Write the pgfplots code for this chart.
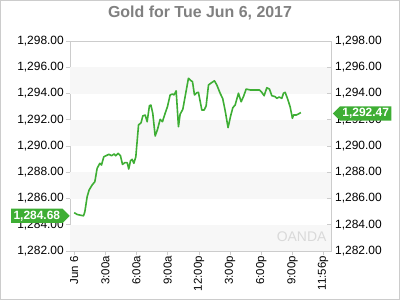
\documentclass[border=0pt]{standalone}
\usepackage{pgfplots}
\pgfplotsset{compat=1.18}
\usepackage{fontspec}
\setmainfont{Liberation Sans}
\usetikzlibrary{shapes.symbols}
\definecolor{gline}{RGB}{62,174,52}
\definecolor{axgray}{RGB}{204,204,204}
\definecolor{band}{RGB}{247,247,247}
\definecolor{titlegray}{RGB}{128,128,128}
\begin{document}
\begin{tikzpicture}
\draw[axgray, line width=1bp] (-69.5bp,-48.5bp) rectangle (329.5bp,250.5bp);
\node[font=\fontsize{16}{18}\selectfont\bfseries, text=titlegray] at (130bp,238bp) {Gold for Tue Jun 6, 2017};
\begin{axis}[
  at={(0,0)}, anchor=south west,
  scale only axis, width=261bp, height=210bp,
  clip mode=individual,
  xmin=-0.4, xmax=24.7, ymin=1282, ymax=1298,
  axis line style={draw=axgray},
  tick style={draw=axgray, line width=0.8bp},
  major tick length=4bp,
  tick align=outside,
  xtick pos=bottom, ytick pos=left,
  xtick={0,3,6,9,12,15,18,21,23.933},
  xticklabels={Jun 6,3:00a,6:00a,9:00a,12:00p,3:00p,6:00p,9:00p,11:56p},
  xticklabel style={rotate=90, anchor=east, font=\fontsize{11.5}{13}\selectfont, inner sep=1bp},
  ytick={1282,1284,...,1298},
  yticklabel style={font=\fontsize{12}{14}\selectfont, inner sep=1bp, xshift=-1bp},
  /pgf/number format/.cd, fixed, fixed zerofill, precision=2, 1000 sep={,}, assume math mode=true,
]
\fill[band] (axis cs:-0.4,1282) rectangle (axis cs:24.7,1284);
\fill[band] (axis cs:-0.4,1286) rectangle (axis cs:24.7,1288);
\fill[band] (axis cs:-0.4,1290) rectangle (axis cs:24.7,1292);
\fill[band] (axis cs:-0.4,1294) rectangle (axis cs:24.7,1296);
\node[font=\fontsize{14}{16}\selectfont, text=black!15, anchor=east] at (axis cs:24.6,1283.1) {OANDA};
\addplot[gline, line width=1.6bp, line join=round] coordinates {
(0.0,1284.92) (0.3,1284.78) (0.9,1284.68) (1.03,1285.0) (1.25,1286.14)
(1.44,1286.65) (1.73,1287.03) (1.99,1287.28) (2.21,1288.3) (2.47,1288.68)
(2.63,1288.55) (2.85,1289.18) (3.2,1289.31) (3.34,1289.37) (3.59,1289.26)
(3.85,1289.39) (4.0,1289.26) (4.23,1289.44) (4.45,1289.26) (4.65,1288.6)
(4.87,1288.73) (5.1,1288.73) (5.25,1288.25) (5.42,1288.88) (5.58,1288.98)
(5.74,1288.68) (5.93,1289.18) (6.19,1291.6) (6.44,1291.78) (6.6,1292.29)
(6.83,1292.36) (7.02,1291.85) (7.24,1293.07) (7.38,1293.12) (7.56,1292.49)
(7.79,1290.76) (8.0,1291.22) (8.27,1292.03) (8.49,1291.85) (8.75,1292.49)
(8.97,1292.99) (9.23,1293.89) (9.45,1293.96) (9.6,1293.89) (9.81,1294.2)
(10.03,1291.47) (10.19,1292.42) (10.45,1292.8) (10.7,1293.89) (10.99,1295.16)
(11.25,1294.97) (11.38,1294.9) (11.57,1293.89) (11.8,1294.06) (11.95,1294.09)
(12.28,1292.74) (12.5,1292.74) (12.69,1293.05) (12.92,1294.65) (13.14,1294.78)
(13.49,1294.97) (13.72,1294.65) (14.04,1294.02) (14.29,1293.6) (14.52,1292.7)
(14.8,1291.4) (15.07,1292.36) (15.26,1292.92) (15.48,1293.12) (15.8,1294.02)
(16.06,1293.37) (16.28,1293.76) (16.54,1294.34) (16.92,1294.27) (17.82,1294.27)
(18.04,1294.09) (18.27,1293.83) (18.53,1294.44) (18.78,1294.34) (19.01,1293.83)
(19.33,1293.76) (19.49,1293.63) (19.71,1293.73) (19.97,1293.63) (20.13,1294.02)
(20.29,1294.09) (20.51,1293.63) (20.77,1292.99) (20.99,1292.11) (21.09,1292.36)
(21.35,1292.36) (21.57,1292.44) (21.8,1292.55)
};
\end{axis}
\begin{axis}[
  at={(0,0)}, anchor=south west,
  scale only axis, width=261bp, height=210bp,
  clip=false,
  xmin=-0.4, xmax=24.7, ymin=1282, ymax=1298,
  axis x line=none, axis y line*=right,
  axis line style={draw=axgray},
  y axis line style={-},
  tick style={draw=axgray, line width=0.8bp},
  major tick length=4bp,
  tick align=inside,
  ytick={1282,1284,...,1298},
  yticklabel style={font=\fontsize{12}{14}\selectfont, inner sep=1bp, xshift=3bp},
  /pgf/number format/.cd, fixed, fixed zerofill, precision=2, 1000 sep={,}, assume math mode=true,
]
\addplot[draw=none] coordinates {(0,1290)};
\node[signal, signal to=east, fill=gline, text=white, font=\fontsize{12}{14}\selectfont\bfseries,
  inner xsep=2.5bp, inner ysep=2bp, anchor=east] at (axis cs:-0.4,1284.68) {1,284.68};
\node[signal, signal to=west, fill=gline, text=white, font=\fontsize{12}{14}\selectfont\bfseries,
  inner xsep=2.5bp, inner ysep=2bp, anchor=west] at (axis cs:24.85,1292.47) {1,292.47};
\end{axis}
\end{tikzpicture}
\end{document}
